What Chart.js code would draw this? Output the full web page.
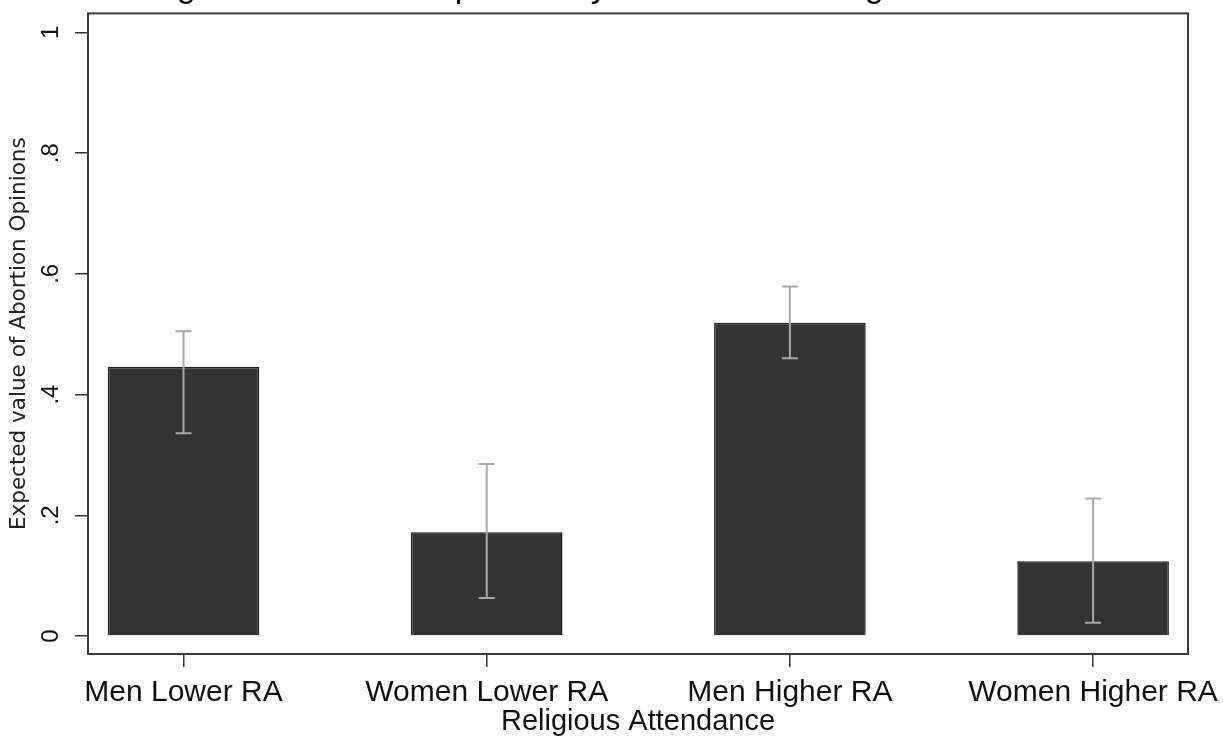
<!DOCTYPE html>
<html>
<head>
<meta charset="utf-8">
<script src="https://cdn.jsdelivr.net/npm/chart.js@4.4.1/dist/chart.umd.min.js"></script>
<style>
  html, body { margin: 0; padding: 0; background: #fff; overflow: hidden; }
  #wrap { position: absolute; left: 0; top: -40px; width: 1223px; height: 778px; }
</style>
</head>
<body>
<div id="wrap"><canvas id="chart" width="1223" height="778"></canvas></div>
<script>
// data
const categories = ['Men Lower RA', 'Women Lower RA', 'Men Higher RA', 'Women Higher RA'];
const expectedValues = [0.446, 0.172, 0.519, 0.124];
const ciLow = [0.336, 0.063, 0.460, 0.022];
const ciHigh = [0.505, 0.285, 0.579, 0.228];
const yTickValues = [0, 0.2, 0.4, 0.6, 0.8, 1];
const yTickLabels = ['0', '.2', '.4', '.6', '.8', '1'];

const FONT = "'Liberation Sans', Arial, sans-serif";

// grey whiskers with caps, drawn through the chart scales
const errorBars = {
    id: 'errorBars',
    afterDatasetsDraw(chart) {
        const { ctx, scales: { x, y } } = chart;
        ctx.save();
        ctx.strokeStyle = '#a8a8a8';
        ctx.lineWidth = 2;
        categories.forEach((c, i) => {
            const px = x.getPixelForValue(i);
            const lo = y.getPixelForValue(ciLow[i]);
            const hi = y.getPixelForValue(ciHigh[i]);
            ctx.beginPath();
            ctx.moveTo(px, lo); ctx.lineTo(px, hi);
            ctx.moveTo(px - 8, lo); ctx.lineTo(px + 8, lo);
            ctx.moveTo(px - 8, hi); ctx.lineTo(px + 8, hi);
            ctx.stroke();
        });
        ctx.restore();
    }
};

// plot region frame
const frame = {
    id: 'frame',
    afterDraw(chart) {
        const { ctx, chartArea: a } = chart;
        ctx.save();
        ctx.strokeStyle = '#3a3a3a';
        ctx.lineWidth = 2;
        ctx.strokeRect(a.left, a.top, a.right - a.left, a.bottom - a.top);
        ctx.restore();
    }
};

new Chart(document.getElementById('chart'), {
    type: 'bar',
    data: {
        datasets: [{
            data: expectedValues.map((v, i) => ({ x: i, y: v })),
            backgroundColor: '#333333',
            borderColor: '#1e1e1e',
            borderWidth: 1.5,
            barPercentage: 0.5,
            categoryPercentage: 1.0
        }]
    },
    options: {
        responsive: false,
        devicePixelRatio: 1,
        animation: false,
        layout: { padding: { left: 0, right: 35, top: 0, bottom: 0 } },
        plugins: {
            legend: { display: false },
            tooltip: { enabled: false },
            title: {
                display: true,
                fullSize: false,
                text: 'Figure 6: Abortion Opinions by Gender and Religious Attendance',
                color: '#000',
                font: { family: FONT, size: 34, weight: 'normal', lineHeight: 1.2 },
                padding: { top: 7, bottom: 5.6 }
            }
        },
        scales: {
            x: {
                type: 'linear',
                offset: false,
                min: -0.315,
                max: 3.313,
                afterBuildTicks: s => { s.ticks = categories.map((c, i) => ({ value: i })); },
                afterFit: s => { s.height = 84; s.paddingLeft = 0; s.paddingRight = 0; },
                grid: { display: true, offset: false, drawOnChartArea: false, drawTicks: true, tickLength: 13, tickColor: '#333', lineWidth: 1.5 },
                border: { display: false },
                ticks: {
                    autoSkip: false,
                    maxRotation: 0,
                    padding: 8,
                    color: '#111',
                    font: { family: FONT, size: 30, lineHeight: 1.2 },
                    callback: v => categories[v]
                },
                title: {
                    display: true,
                    text: 'Religious Attendance',
                    color: '#111',
                    font: { family: FONT, size: 29, lineHeight: 1 },
                    padding: { top: 0, bottom: 2 }
                }
            },
            y: {
                min: -0.0298,
                max: 1.0315,
                afterBuildTicks: s => { s.ticks = yTickValues.map(v => ({ value: v })); },
                afterFit: s => { s.width = 88; s.paddingTop = 0; s.paddingBottom = 0; },
                grid: { display: true, drawOnChartArea: false, drawTicks: true, tickLength: 13, tickColor: '#333', lineWidth: 1.5 },
                border: { display: false },
                ticks: {
                    minRotation: 90,
                    maxRotation: 90,
                    crossAlign: 'center',
                    padding: 14,
                    color: '#111',
                    font: { family: FONT, size: 24 },
                    callback: v => yTickLabels[yTickValues.indexOf(v)]
                },
                title: {
                    display: true,
                    text: 'Expected value of Abortion Opinions',
                    color: '#222',
                    font: { family: "'DejaVu Sans', sans-serif", size: 21.5, lineHeight: 1.2 },
                    padding: { top: 7, bottom: 0 }
                }
            }
        }
    },
    plugins: [errorBars, frame]
});
</script>
</body>
</html>
